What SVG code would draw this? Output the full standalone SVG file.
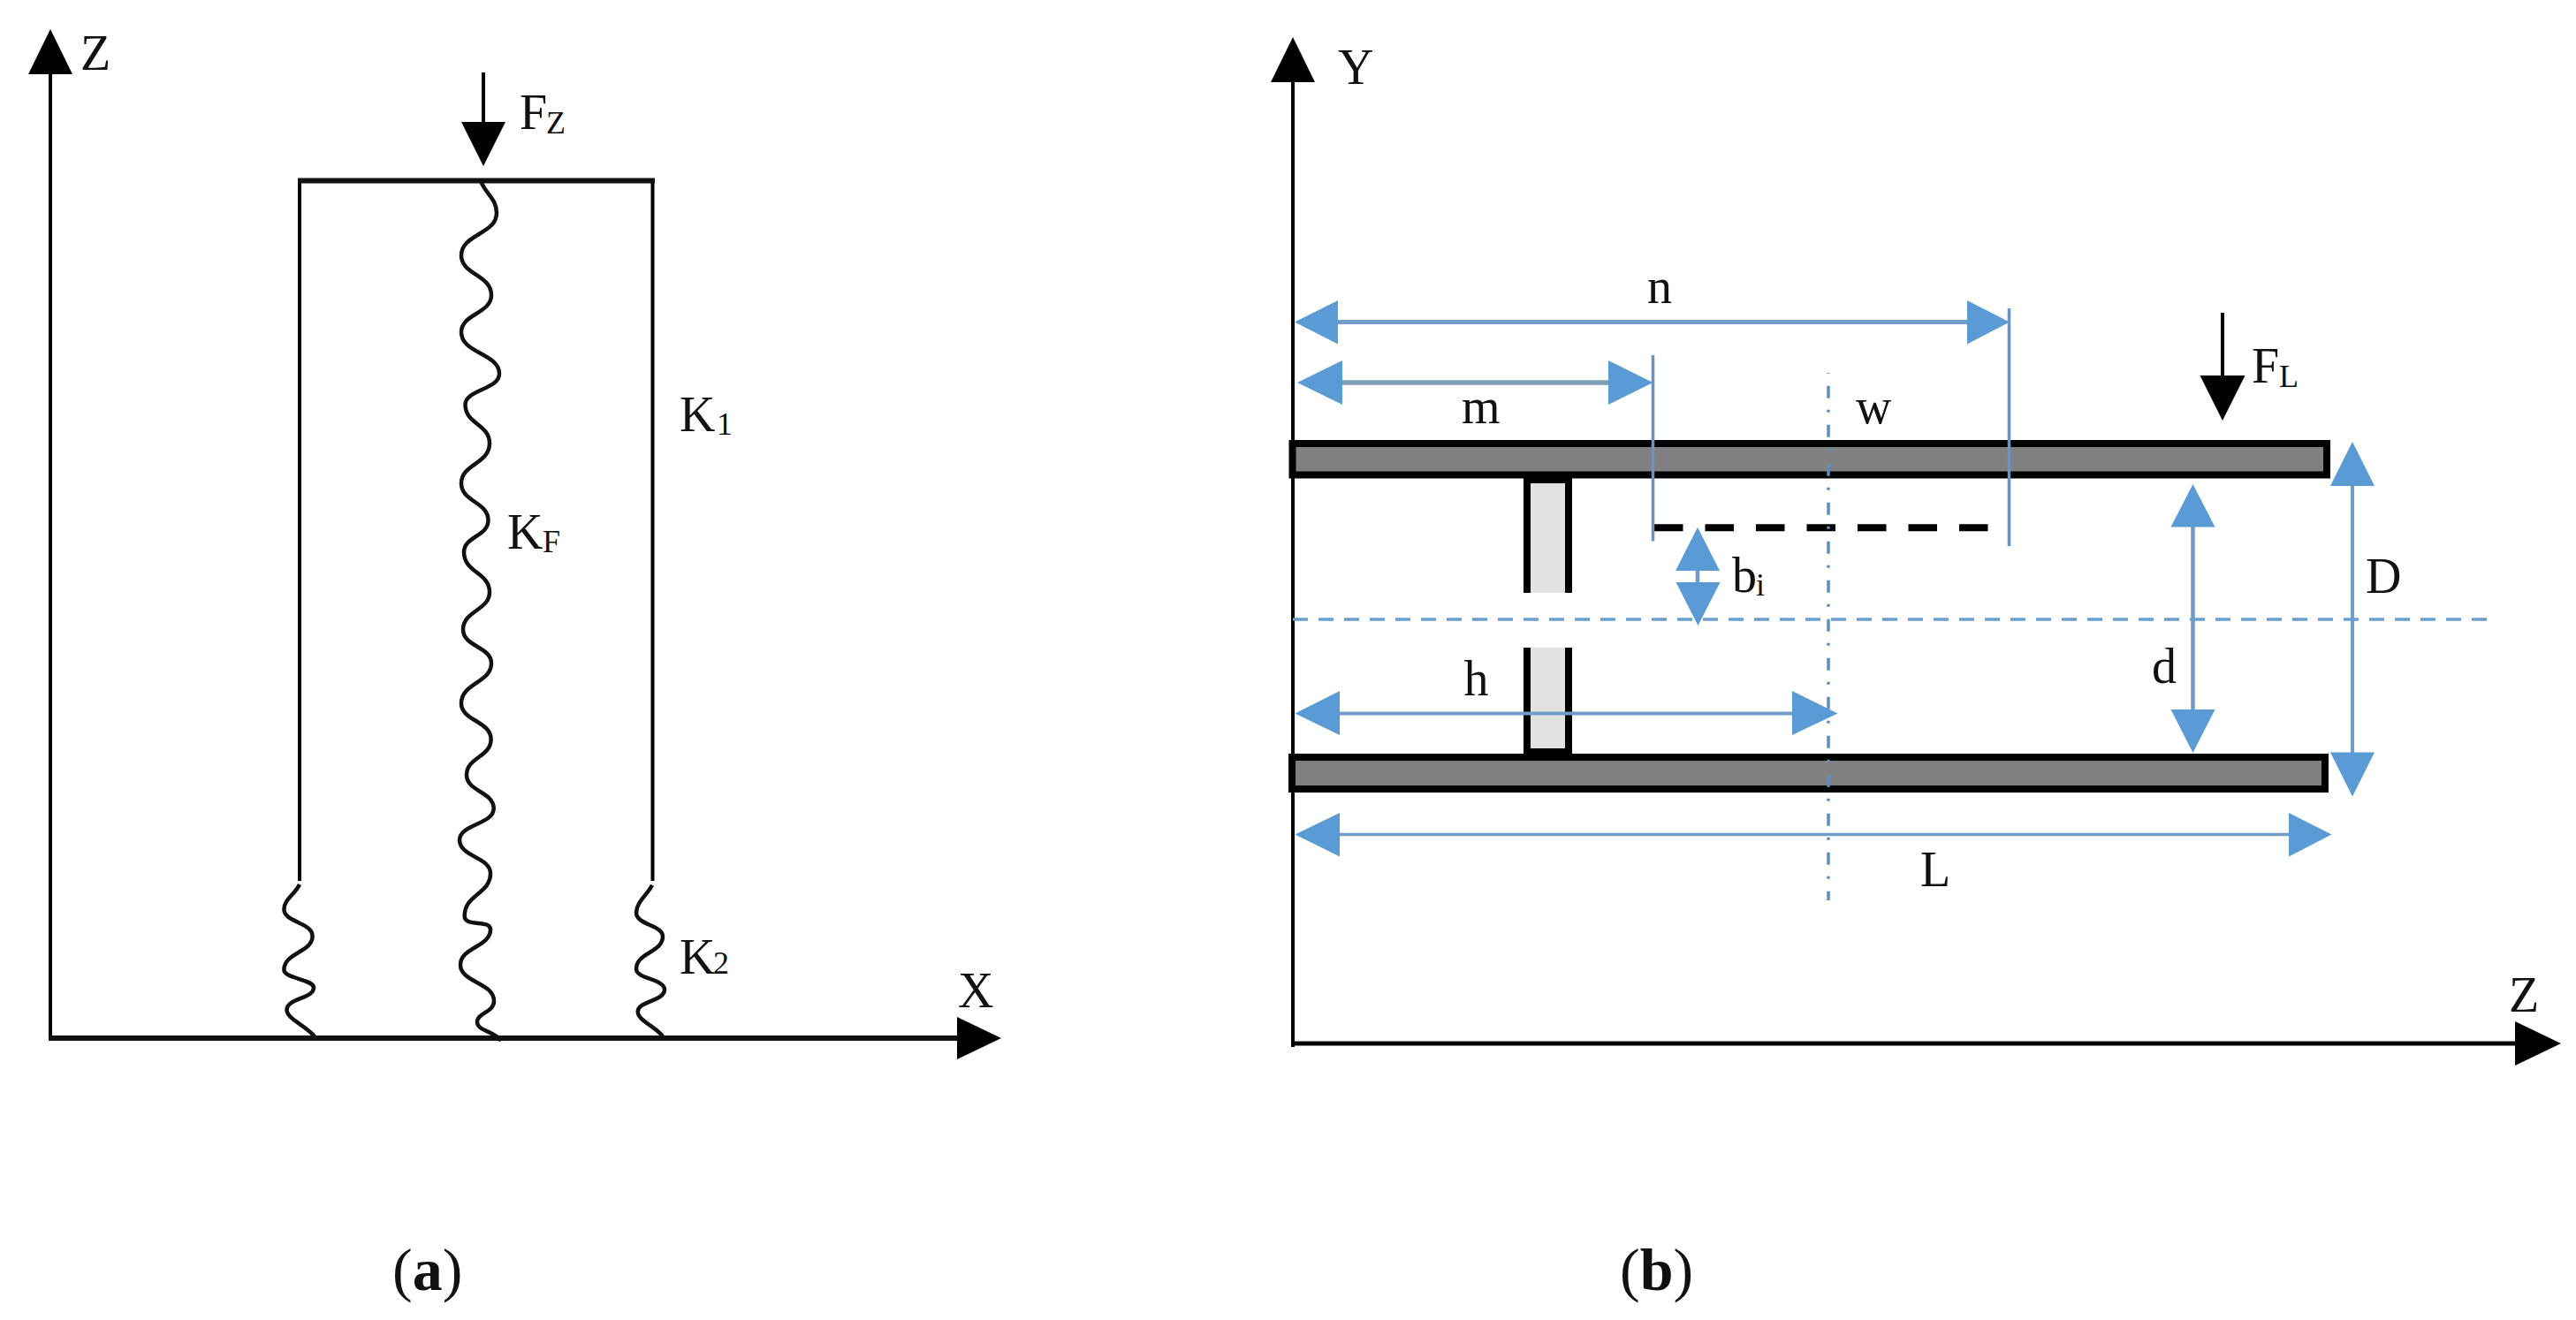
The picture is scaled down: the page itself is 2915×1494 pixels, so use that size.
<svg xmlns="http://www.w3.org/2000/svg" width="2915" height="1494" viewBox="0 0 2915 1494">
<style>
text{font-family:"Liberation Serif","Times New Roman",serif;fill:#111}
.t{font-size:56px}
.s{font-size:36px}
.cap{font-size:68px}
.b{font-weight:bold}
.k{stroke:#000;fill:none;stroke-width:4}
.kt{stroke:#111;fill:none;stroke-width:6}
.sp{stroke:#111;fill:none;stroke-width:4.5}
.h{fill:#000;stroke:none}
.bh{fill:#5b9bd5;stroke:none}
.bl{stroke:#6f9cc8;fill:none;stroke-width:4.5}
.ext{stroke:#6a93bd;fill:none;stroke-width:3.5}
.bar{fill:#808080;stroke:#000;stroke-width:8}
.post{fill:#e2e2e2;stroke:none}
.pl{stroke:#000;fill:none;stroke-width:8}
</style>
<rect width="2915" height="1494" fill="#fff"/>
<g id="connectors">
<g id="panel-a-lines">
<line class="k" x1="57" y1="1177" x2="57" y2="80"/>
<polygon class="h" points="57,33 82,84 32,84"/>
<line class="kt" x1="55" y1="1175" x2="1090" y2="1175"/>
<polygon class="h" points="1133,1175 1083,1151 1083,1199"/>
<line class="k" x1="547" y1="82" x2="547" y2="140"/>
<polygon class="h" points="547,188 522,138 572,138"/>
<path class="k" d="M339,997V204.500"/>
<path class="k" d="M738.500,997V204.500"/>
<line class="kt" x1="337" y1="204.500" x2="741" y2="204.500"/>
<path id="spring-main" class="sp" d="M544,205C550,220 562,225 562,241C562,265 522,265 522,289C522,311 556,311 556,334C556,355 522,355 522,376C522,400 565,400 565,423C565,441 526.500,441 526.500,458C526.500,480 554,480 554,502C554,525 522,525 522,547C522,568 552.500,568 552.500,589C552.500,607 525,607 525,625C525,648 554,648 554,670C554,691 524,691 524,712.600C524,732 556,732 556,750.600C556,773 522,773 522,796C522,816 555.600,816 555.600,836.700C555.600,857 528,857 528,877C528,896 558.700,896 558.700,915C558.700,933 520,933 520,950.600C520,970 555,970 555,988.600C555,1012 525.700,1012 525.700,1036.700C525.700,1050 555,1040 555,1052C555,1072 521,1072 521,1092C521,1112 559,1112 559,1133C559,1146 540,1146 540,1157C540,1167 560,1167 567,1178"/>
<path id="spring-left" class="sp" d="M339,1001C334,1012 321.400,1018 321.400,1029C321.400,1044 353.600,1044 353.600,1059.500C353.600,1078 321.400,1078 321.400,1097.500C321.400,1108 355,1108 355,1118C355,1130 324.500,1130 324.500,1143C324.500,1153 345,1160 356,1173"/>
<path id="spring-right" class="sp" d="M738,1001.700C733,1012 720,1021 720,1033C720,1047 750,1047 750,1060C750,1078 720,1078 720,1096.700C720,1108 752,1108 752,1120C752,1133 721.700,1133 721.700,1145C721.700,1155 742,1162 750,1173"/>
</g>
<g id="panel-b-axes">
<line class="k" x1="1463" y1="1185" x2="1463" y2="90"/>
<polygon class="h" points="1463,42 1488,93 1438,93"/>
<line class="k" x1="1463" y1="1181" x2="2850" y2="1181" style="stroke-width:5"/>
<polygon class="h" points="2898,1181 2846,1156 2846,1206"/>
<line class="k" x1="2515" y1="354" x2="2515" y2="428"/>
<polygon class="h" points="2515,476 2489.500,425 2540.500,425"/>
</g>
</g>
<g id="beam-top"><rect class="bar" x="1462.500" y="502" width="1170.500" height="35.500"/></g>
<g id="beam-bottom"><rect class="bar" x="1462" y="857" width="1169" height="36"/></g>
<g id="web-upper">
<rect class="post" x="1728" y="541" width="47" height="130"/>
<path class="pl" d="M1728,541V671M1775,541V671M1724,543H1779"/>
</g>
<g id="web-lower">
<rect class="post" x="1728" y="733" width="47" height="120"/>
<path class="pl" d="M1728,733V853M1775,733V853M1724,851H1779"/>
</g>
<g id="inner-edge"><line x1="1872" y1="597.300" x2="2253" y2="597.300" stroke="#000" stroke-width="8" stroke-dasharray="32.500 25"/></g>
<g id="dimensions">
<line x1="1463" y1="701" x2="2820" y2="701" stroke="#6b9fd0" stroke-width="3.500" stroke-dasharray="17 12"/>
<line x1="2069" y1="422" x2="2069" y2="1019" stroke="#5b8fc0" stroke-width="3.500" stroke-dasharray="14 13 3 14" stroke-dashoffset="29.300"/>
<line class="ext" x1="1870.500" y1="402" x2="1870.500" y2="612.500"/>
<line class="ext" x1="2273.500" y1="349" x2="2273.500" y2="618"/>
<line class="bl" x1="1500" y1="364.500" x2="2240" y2="364.500" style="stroke-width:5"/>
<polygon class="bh" points="1465,364.500 1514,340 1514,389.500"/>
<polygon class="bh" points="2274,364.500 2226,340 2226,389.500"/>
<line class="bl" x1="1500" y1="433" x2="1840" y2="433" style="stroke:#7f9fb5;stroke-width:5.500"/>
<polygon class="bh" points="1468,433 1519,408 1519,458"/>
<polygon class="bh" points="1870.500,433 1820,408 1820,458"/>
<line class="bl" x1="1500" y1="807.500" x2="2040" y2="807.500" style="stroke-width:4"/>
<polygon class="bh" points="1465.500,807.500 1516,782 1516,832"/>
<polygon class="bh" points="2079.500,807.500 2028,782 2028,832"/>
<line class="bl" x1="1500" y1="944.600" x2="2600" y2="944.600" style="stroke-width:3.500"/>
<polygon class="bh" points="1465.500,944.600 1516,920 1516,969.500"/>
<polygon class="bh" points="2638.500,944.600 2590,920 2590,969.500"/>
<line class="bl" x1="1921" y1="640" x2="1921" y2="665"/>
<polygon class="bh" points="1921,596.700 1946,646 1896,646"/>
<polygon class="bh" points="1921.500,708 1946.500,659 1896.500,659"/>
<line class="bl" x1="2481.500" y1="590" x2="2481.500" y2="810"/>
<polygon class="bh" points="2481.500,548 2506.500,596.500 2456.500,596.500"/>
<polygon class="bh" points="2481.500,852 2506.500,803 2456.500,803"/>
<line class="bl" x1="2662" y1="545" x2="2662" y2="855" style="stroke-width:4"/>
<polygon class="bh" points="2662,500 2687,550 2637,550"/>
<polygon class="bh" points="2662,901.500 2687,851.500 2637,851.500"/>
</g>
<g id="labels">
<text class="t" x="91" y="79">Z</text>
<text class="t" x="588" y="146">F<tspan class="s" x="618" dy="5">Z</tspan></text>
<text class="t" x="769" y="487.500">K<tspan class="s" x="811" dy="4">1</tspan></text>
<text class="t" x="574" y="621">K<tspan class="s" x="614" dy="4">F</tspan></text>
<text class="t" x="769" y="1101.500">K<tspan class="s" x="807" dy="0">2</tspan></text>
<text class="t" x="1084" y="1139.500">X</text>
<text class="cap" x="444" y="1459.500">(<tspan class="b">a</tspan>)</text>
<text class="t" x="1514" y="94.500">Y</text>
<text class="t" x="1864" y="343">n</text>
<text class="t" x="1654" y="479">m</text>
<text class="t" x="2100" y="478.500">w</text>
<text class="t" x="2548" y="433">F<tspan class="s" x="2579" dy="5">L</tspan></text>
<text class="t" x="2677" y="670.500">D</text>
<text class="t" x="1960" y="670">b<tspan class="s" x="1987" dy="4">i</tspan></text>
<text class="t" x="1656.500" y="786.500">h</text>
<text class="t" x="2435" y="773">d</text>
<text class="t" x="2173" y="1003">L</text>
<text class="t" x="2839" y="1144.500">Z</text>
<text class="cap" x="1833" y="1459.500">(<tspan class="b">b</tspan>)</text>
</g>
</svg>
